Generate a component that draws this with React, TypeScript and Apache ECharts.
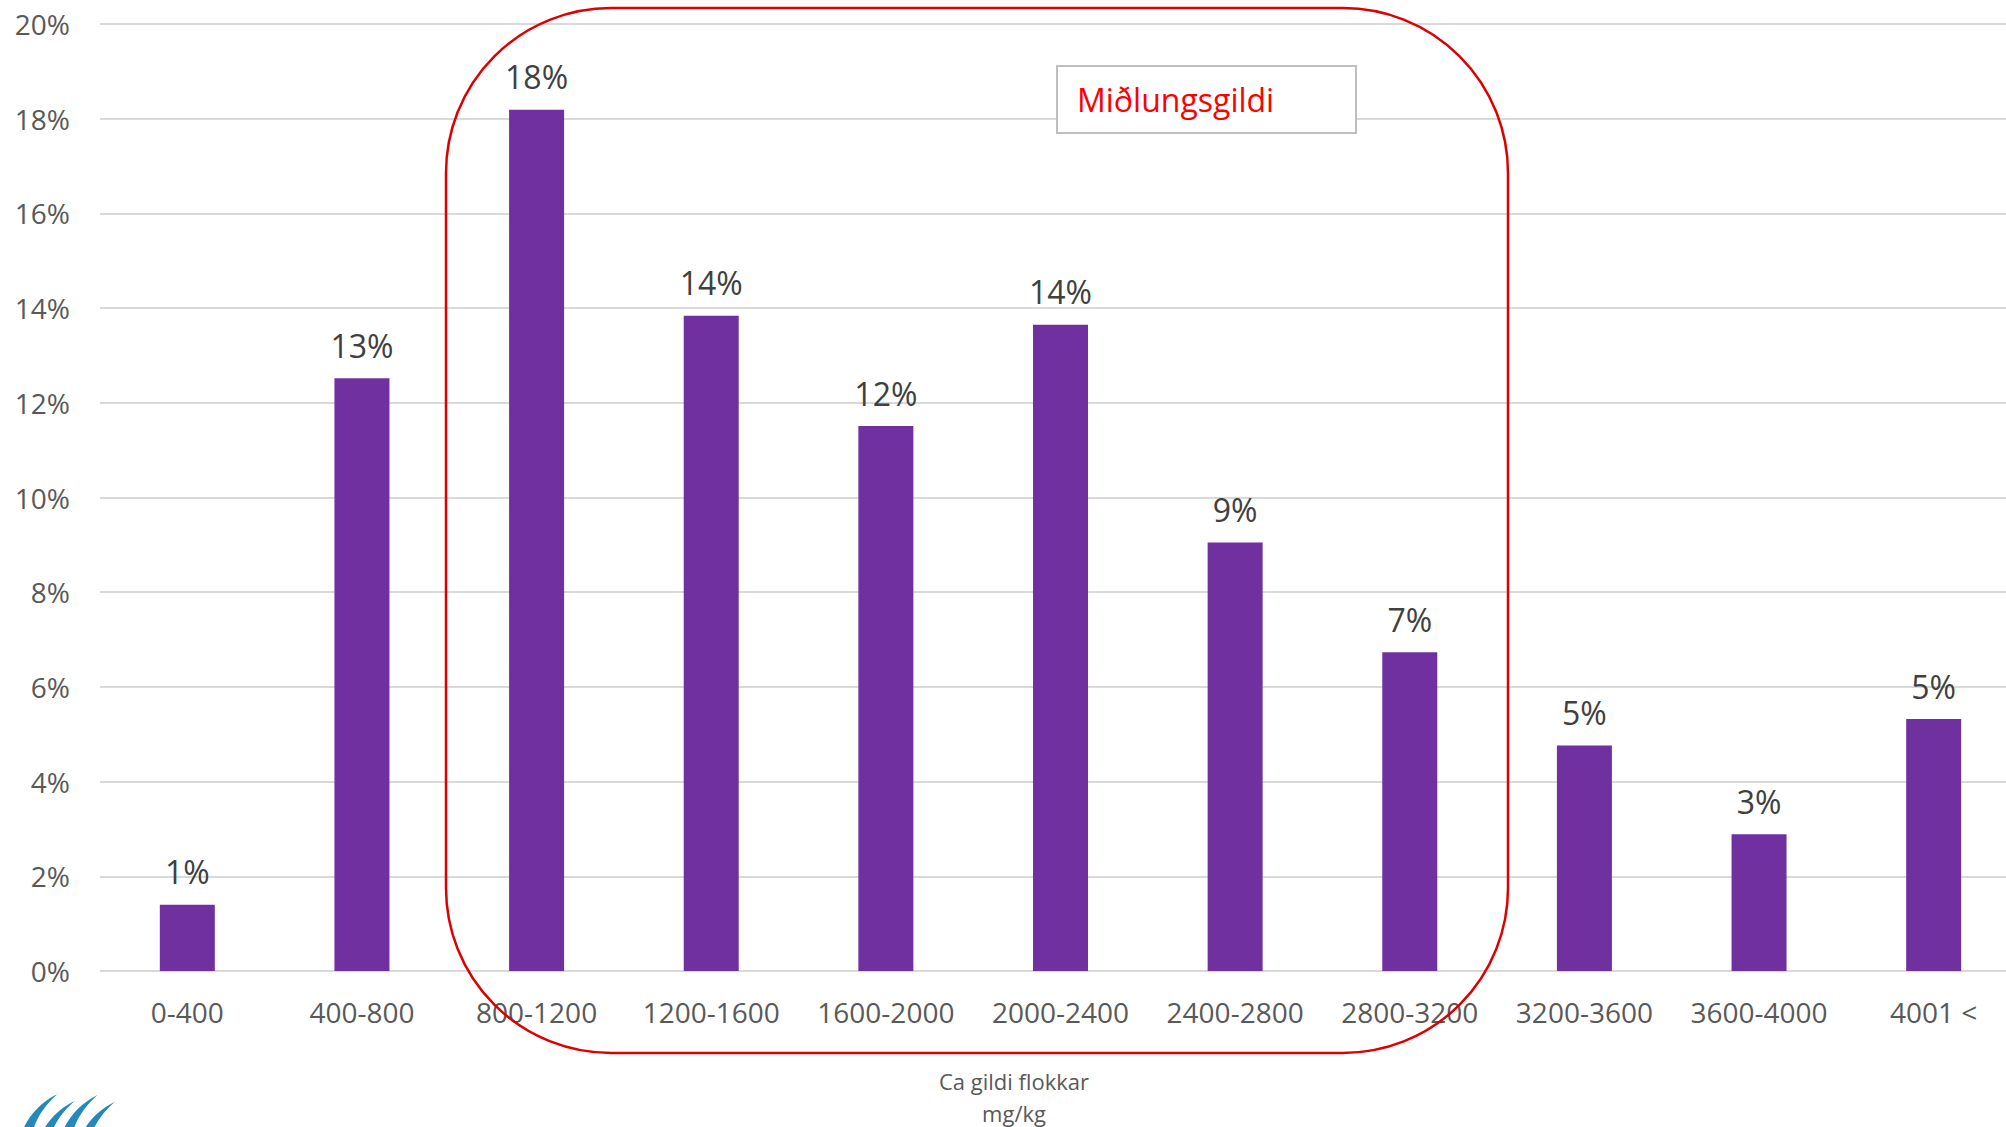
import React, { useEffect, useRef } from "react";
import * as echarts from "echarts";

const categories = [
  "0-400",
  "400-800",
  "800-1200",
  "1200-1600",
  "1600-2000",
  "2000-2400",
  "2400-2800",
  "2800-3200",
  "3200-3600",
  "3600-4000",
  "4001 <",
];
const shares = [1.4, 12.52, 18.19, 13.84, 11.51, 13.65, 9.05, 6.73, 4.76, 2.89, 5.32];
const yMin = 0;
const yMax = 20;
const yStep = 2;
const axisTitleLines = ["Ca gildi flokkar", "mg/kg"];
const boxLabel = "Miðlungsgildi";

const FONT = "'Open Sans', 'Noto Sans', sans-serif";

const swoosh = "M0 40 C4 24 14 9 30 0 C19 11 11 25 9 40 Z";
let registered = false;

export default function App() {
  const ref = useRef<HTMLDivElement | null>(null);

  useEffect(() => {
    if (!ref.current) return;
    if (!registered) {
      echarts.graphic.registerShape("logo", echarts.graphic.extendPath(swoosh, {}) as any);
      registered = true;
    }
    const chart = echarts.init(ref.current, undefined, { renderer: "svg" });
    const logoParts = [
      { x: 20, y: 1094 },
      { x: 37, y: 1101 },
      { x: 60, y: 1095 },
      { x: 77, y: 1102 },
    ].map((p) => ({
      type: "logo",
      x: p.x,
      y: p.y,
      scaleX: 1.25,
      scaleY: 1.1,
      style: { fill: "#2389bd" },
      z: 10,
    }));

    chart.setOption({
      animation: false,
      backgroundColor: "#ffffff",
      grid: { left: 100, top: 24, right: 4, bottom: 156, containLabel: false },
      xAxis: {
        type: "category",
        data: categories,
        axisLine: { show: false },
        axisTick: { show: false },
        axisLabel: {
          color: "#595959",
          fontSize: 28,
          fontFamily: FONT,
          margin: 27,
          interval: 0,
        },
      },
      yAxis: {
        type: "value",
        min: yMin,
        max: yMax,
        interval: yStep,
        axisLine: { show: false },
        axisTick: { show: false },
        axisLabel: {
          color: "#595959",
          fontSize: 28,
          fontFamily: FONT,
          margin: 30,
          formatter: "{value}%",
        },
        splitLine: { lineStyle: { color: "#d9d9d9", width: 2 } },
      },
      series: [
        {
          type: "bar",
          data: shares,
          barWidth: 55,
          itemStyle: { color: "#7030a0" },
          label: {
            show: true,
            position: "top",
            distance: 17,
            color: "#404040",
            fontSize: 32,
            fontFamily: FONT,
            formatter: (p: any) => Math.round(p.value) + "%",
          },
        },
      ],
      graphic: [
        {
          type: "rect",
          shape: { x: 446, y: 8, width: 1062, height: 1045, r: 165 },
          style: { fill: "none", stroke: "#dd0000", lineWidth: 2.5 },
          z: 100,
        },
        {
          type: "rect",
          shape: { x: 1057, y: 66, width: 299, height: 67 },
          style: { fill: "#ffffff", stroke: "#bfbfbf", lineWidth: 2 },
          z: 101,
        },
        {
          type: "text",
          x: 1077,
          y: 99,
          style: {
            text: boxLabel,
            fill: "#ff0000",
            fontSize: 32,
            fontFamily: FONT,
            verticalAlign: "middle",
            align: "left",
          },
          z: 102,
        },
        {
          type: "text",
          x: 1014,
          y: 1081,
          style: {
            text: axisTitleLines[0],
            fill: "#595959",
            fontSize: 22,
            fontFamily: FONT,
            align: "center",
            verticalAlign: "middle",
          },
        },
        {
          type: "text",
          x: 1014,
          y: 1113,
          style: {
            text: axisTitleLines[1],
            fill: "#595959",
            fontSize: 22,
            fontFamily: FONT,
            align: "center",
            verticalAlign: "middle",
          },
        },
        ...logoParts,
      ],
    });
    return () => chart.dispose();
  }, []);

  return (
    <div
      ref={ref}
      style={{ position: "fixed", left: 0, top: 0, width: 2025, height: 1127 }}
    />
  );
}
